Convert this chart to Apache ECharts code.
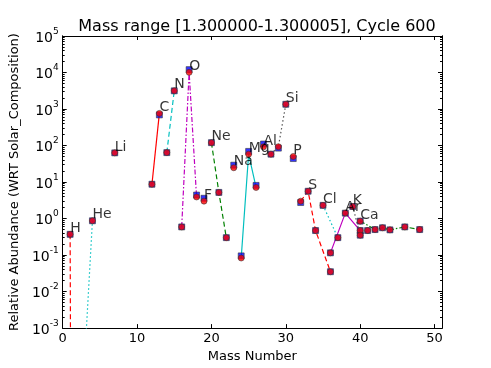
<!DOCTYPE html>
<html>
<head>
<meta charset="utf-8">
<script src="https://cdn.jsdelivr.net/npm/echarts@6/dist/echarts.min.js"></script>
<style>
  html, body { margin: 0; padding: 0; background: #fff; }
  #chart { width: 491px; height: 368px; }
</style>
</head>
<body>
<div id="chart"></div>
<script>
// =====================
// Data
// =====================
const isoElement = ['H','H','He','He','Li','C','C','N','N','O','O','O','F','Ne','Ne','Ne','Na',
  'Mg','Mg','Mg','Al','Si','Si','Si','P','S','S','S','S','Cl','Cl','Ar','Ar','Ar','K','K','K',
  'Ca','Ca','Ca','Ca','Ca','Ca']
const isoMass = [1,2,3,4,7,12,13,14,15,16,17,18,19,20,21,22,23,24,25,26,27,28,29,30,31,
  32,33,34,36,35,37,36,38,40,39,40,41,40,42,43,44,46,48]
// red circles
const abundCircle = [0.37,1e-60,2e-4,0.87,63,8.7,760,64,3150,0.59,10100,3.9,3.0,120,5.2,0.30,24.6,
  0.083,58,7.1,92,58,93,1350,50,3.0,5.6,0.47,0.035,2.3,0.30,0.115,1.41,0.47,2.14,0.35,0.47,
  0.85,0.50,0.56,0.49,0.59,0.50]
// blue squares
const abundSquare = [0.37,1e-60,2e-4,0.87,63,8.7,690,64,3150,0.59,12000,4.4,3.6,120,5.2,0.30,29,
  0.095,69,8.1,110,58,85,1350,44,2.75,5.6,0.47,0.035,2.3,0.30,0.115,1.41,0.47,2.14,0.35,0.47,
  0.85,0.50,0.56,0.49,0.59,0.50]

const xTicks = [0, 10, 20, 30, 40, 50]

// line look per element (matplotlib style)
const RED = '#ff0000', CYAN = '#00bfbf', MAG = '#bf00bf', GREEN = '#008000', BLACK = '#555'
const DASH = [5, 3], DOT = [1.5, 2.5], DASHDOT = [5, 2, 1.5, 2]
const lineLook = {
  H:  [RED, DASH],
  He: [CYAN, DOT],
  C:  [RED, 'solid'],
  N:  [CYAN, DASH],
  O:  [MAG, DASHDOT],
  Ne: [GREEN, DASH],
  Mg: [CYAN, 'solid'],
  Si: [BLACK, DOT],
  S:  [RED, DASH],
  Cl: [CYAN, DOT],
  Ar: [MAG, 'solid'],
  K:  [BLACK, DOT],
  Ca: [GREEN, DASHDOT]
}

// =====================
// Group by element
// =====================
const elements = [...new Set(isoElement)]
const groups = {}
isoElement.forEach((el, i) => {
  if (!groups[el]) groups[el] = []
  groups[el].push([isoMass[i], abundCircle[i]])
})

const lineSeries = elements
  .filter(el => groups[el].length > 1)
  .map(el => ({
    type: 'line',
    data: groups[el],
    showSymbol: false,
    symbol: 'none',
    silent: true,
    z: 2,
    lineStyle: { color: lineLook[el][0], type: lineLook[el][1], width: 1.2 }
  }))

// label at the most abundant isotope of each element
const labelData = elements.map(el => {
  const best = groups[el].reduce((a, b) => (b[1] > a[1] ? b : a))
  return { value: best, name: el }
})

// minor ticks for the log axis
const minorTicks = []
for (let e = -3; e < 5; e++) {
  for (let k = 2; k < 10; k++) minorTicks.push(k * Math.pow(10, e))
}

const FONT = 'DejaVu Sans'
const axisCommon = {
  axisLine: { show: true, lineStyle: { color: '#000', width: 1 } },
  splitLine: { show: false }
}

const chart = echarts.init(document.getElementById('chart'))

chart.setOption({
  animation: false,
  textStyle: { fontFamily: FONT },
  title: {
    text: 'Mass range [1.300000-1.300005], Cycle 600',
    left: 252,
    textAlign: 'center',
    top: 14,
    textStyle: { fontFamily: FONT, fontSize: 16, fontWeight: 'normal', color: '#000' }
  },
  grid: { left: 61, right: 49, top: 36, bottom: 37, containLabel: false },
  xAxis: [
    {
      ...axisCommon,
      type: 'value', min: 0, max: 51, interval: 10, position: 'bottom',
      name: 'Mass Number', nameLocation: 'middle', nameGap: 16,
      nameTextStyle: { fontFamily: FONT, fontSize: 13, color: '#000' },
      axisTick: { inside: true, length: 4, customValues: xTicks, lineStyle: { color: '#000' } },
      axisLabel: { customValues: xTicks, fontFamily: FONT, fontSize: 13, color: '#000', margin: 4 }
    },
    {
      ...axisCommon,
      type: 'value', min: 0, max: 51, interval: 10, position: 'top',
      axisTick: { inside: true, length: 4, customValues: xTicks, lineStyle: { color: '#000' } },
      axisLabel: { show: false }
    }
  ],
  yAxis: [
    {
      ...axisCommon,
      type: 'log', logBase: 10, min: 1e-3, max: 1e5, splitNumber: 8, position: 'left',
      name: 'Relative Abundance (WRT Solar_Composition)', nameLocation: 'middle', nameGap: 34,
      nameRotate: 90,
      nameTextStyle: { fontFamily: FONT, fontSize: 13, color: '#000' },
      axisTick: { inside: true, length: 4, lineStyle: { color: '#000' } },
      axisLabel: {
        margin: 4,
        formatter: v => '{b|10}{s|' + Math.round(Math.log10(v)) + '}',
        rich: {
          b: { fontFamily: FONT, fontSize: 14, color: '#000', lineHeight: 18, verticalAlign: 'bottom' },
          s: { fontFamily: FONT, fontSize: 9, color: '#000', lineHeight: 18, verticalAlign: 'top' }
        }
      }
    },
    {
      ...axisCommon,
      type: 'log', logBase: 10, min: 1e-3, max: 1e5, position: 'left',
      axisTick: { inside: true, length: 2, customValues: minorTicks, lineStyle: { color: '#000' } },
      axisLabel: { show: false }
    },
    {
      ...axisCommon,
      type: 'log', logBase: 10, min: 1e-3, max: 1e5, splitNumber: 8, position: 'right',
      axisTick: { inside: true, length: 4, lineStyle: { color: '#000' } },
      axisLabel: { show: false }
    },
    {
      ...axisCommon,
      type: 'log', logBase: 10, min: 1e-3, max: 1e5, position: 'right',
      axisTick: { inside: true, length: 2, customValues: minorTicks, lineStyle: { color: '#000' } },
      axisLabel: { show: false }
    }
  ],
  series: [
    ...lineSeries,
    {
      type: 'scatter',
      data: isoMass.map((m, i) => [m, abundSquare[i]]),
      symbol: 'rect',
      symbolSize: 6,
      silent: true,
      z: 3,
      itemStyle: { color: '#0000ff', borderColor: '#333', borderWidth: 0.7 }
    },
    {
      type: 'scatter',
      data: isoMass.map((m, i) => [m, abundCircle[i]]),
      symbol: 'circle',
      symbolSize: 6,
      silent: true,
      z: 4,
      itemStyle: { color: '#ff0000', borderColor: '#333', borderWidth: 0.7 }
    },
    {
      type: 'scatter',
      data: labelData,
      symbolSize: 0,
      silent: true,
      z: 5,
      label: {
        show: true,
        position: 'right',
        distance: 0,
        offset: [0, -6],
        formatter: p => p.name,
        fontFamily: FONT,
        fontSize: 14,
        color: '#000'
      }
    }
  ]
})
</script>
</body>
</html>
